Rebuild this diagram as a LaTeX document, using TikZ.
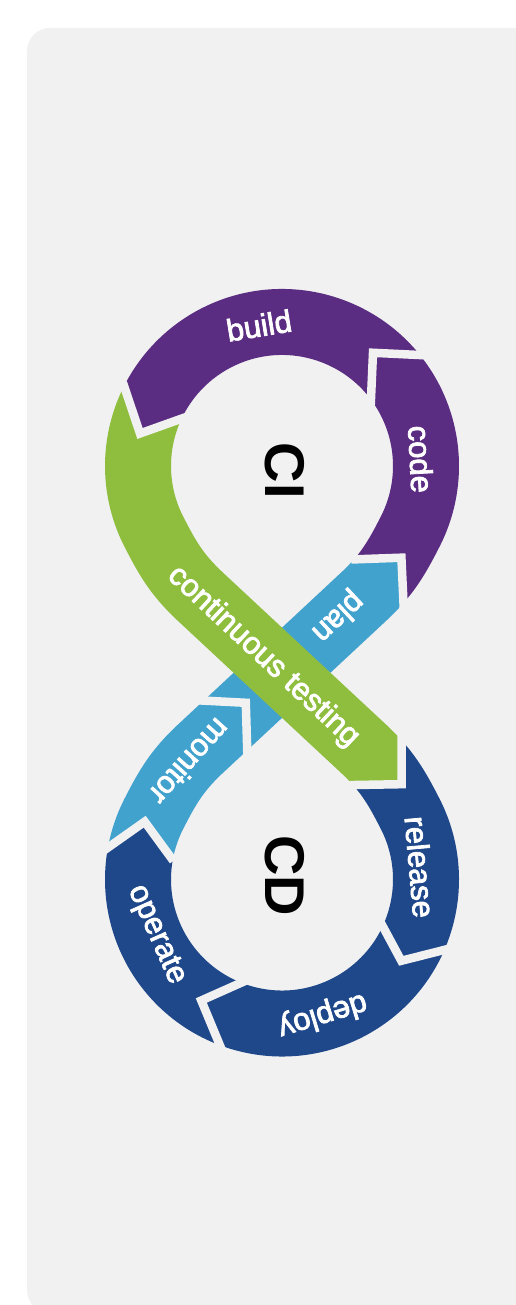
\documentclass[tikz,border=0pt]{standalone}
\usepackage{fontspec}
\setmainfont{Liberation Sans}
\newfontface\stagefont[FakeBold=2.5]{Liberation Sans}
\usetikzlibrary{calc}
\definecolor{panel}{HTML}{F1F1F1}
\definecolor{ciPurple}{HTML}{5B2D82}
\definecolor{ctGreen}{HTML}{8FBE3F}
\definecolor{opsSky}{HTML}{42A2CE}
\definecolor{cdNavy}{HTML}{1F488B}
\tikzset{
  band/.style={line width=66pt},
  seam/.style={draw=panel, line width=8.5pt, line join=miter, miter limit=10},
  stage/.style={text=white, font=\stagefont\fontsize{31}{31}\selectfont, inner sep=0pt},
  loopname/.style={text=black, font=\bfseries\fontsize{56}{56}\selectfont, inner sep=0pt, rotate=-90},
}
\begin{document}
\begin{tikzpicture}[x=1pt,y=1pt]
\useasboundingbox (0,0) rectangle (516,1305);
\fill[white] (0,0) rectangle (516,1305);
\begin{scope}
  \clip (0,0) rectangle (516,1305);
  \fill[panel, rounded corners=23pt] (27,-8) rectangle (560,1277);
\end{scope}

% loop centres, crossing point
\coordinate (C1) at (282,839);
\coordinate (C2) at (282,425.5);
\coordinate (M) at (282,632.25);
% where the straight strands blend into the loops
\coordinate (Lb) at (363.2,707.9);
\coordinate (Q) at (410.306,773.625);
\coordinate (Qp) at (153.694,773.625);
\coordinate (Lg) at (200.8,707.9);
\coordinate (Lg2) at (363.2,556.6);
\coordinate (Q2) at (410.306,490.875);
\coordinate (Q3) at (153.694,490.875);
\coordinate (Lb2) at (200.8,556.6);

% seams between stages: left end, tip, right end (seen in the direction of travel)
\coordinate (J1L) at (183.7,887.1); \coordinate (J1T) at (140,871.5);   \coordinate (J1R) at (124.7,917);
\coordinate (J2L) at (370.9,904.1); \coordinate (J2T) at (373,952.2);   \coordinate (J2R) at (418.9,950);
\coordinate (J3L) at (356.7,745.7); \coordinate (J3T) at (401.4,747.3); \coordinate (J3R) at (403.7,697.5);
\coordinate (J4L) at (401.5,568.3); \coordinate (J4T) at (401.5,520.8); \coordinate (J4R) at (355.3,520);
\coordinate (J5L) at (444,355);     \coordinate (J5T) at (401.3,344.2); \coordinate (J5R) at (382.2,379.7);
\coordinate (J6L) at (220.8,257.5); \coordinate (J6T) at (201.3,304.5); \coordinate (J6R) at (241.7,322.5);
\coordinate (J7L) at (105.3,455.5); \coordinate (J7T) at (144.7,483.3); \coordinate (J7R) at (170.3,448.3);
\coordinate (J8L) at (201.3,604.5); \coordinate (J8T) at (245.8,602.2); \coordinate (J8R) at (247.2,555.5);
\foreach \j in {1,...,8} {
  \coordinate (J\j LL) at ($(J\j T)!1.6!(J\j L)$);
  \coordinate (J\j RR) at ($(J\j T)!1.6!(J\j R)$);
}

% release
\begin{scope}
  \clip (J4LL) -- (J4T) -- (J4RR) -- (C2) -- (J5RR) -- (J5T) -- (J5LL)
        -- ($(C2)+(-15:300)$) -- ($(C2)+(40:300)$) -- cycle;
  \draw[band, cdNavy] (355.1,564.05) -- (Lg2) to[out=-43,in=117] (Q2)
        arc[start angle=27, end angle=-50, radius=144];
\end{scope}
% deploy
\begin{scope}
  \clip (J5LL) -- (J5T) -- (J5RR) -- (C2) -- (J6RR) -- (J6T) -- (J6LL)
        -- ($(C2)+(-115:300)$) -- ($(C2)+(-35:300)$) -- cycle;
  \draw[band, cdNavy] ($(C2)+(-15:144)$) arc[start angle=-15, end angle=-140, radius=144];
\end{scope}
% operate
\begin{scope}
  \clip (J6LL) -- (J6T) -- (J6RR) -- (C2) -- (J7RR) -- (J7T) -- (J7LL)
        -- ($(C2)+(180:300)$) -- ($(C2)+(210:300)$) -- ($(C2)+(240:300)$) -- cycle;
  \draw[band, cdNavy] ($(C2)+(-100:144)$) arc[start angle=-100, end angle=-215, radius=144];
\end{scope}
% monitor
\begin{scope}
  \clip (J7LL) -- (J7T) -- (J7RR) -- (C2) -- (J8RR) -- (J8T) -- (J8LL)
        -- (60,600) -- (20,450) -- cycle;
  \draw[band, opsSky] ($(C2)+(-175:144)$) arc[start angle=-175, end angle=-207, radius=144]
        to[out=63,in=223] (Lb2) -- (267.4,618.6);
\end{scope}
% plan
\begin{scope}
  \clip (J8LL) -- (J8T) -- (J8RR) -- (J3RR) -- (J3T) -- (J3LL) -- cycle;
  \draw[band, opsSky] (208.9,564.05) -- (Lb) to[out=43,in=243] (Q)
        arc[start angle=-27, end angle=-10, radius=144];
\end{scope}
% code
\begin{scope}
  \clip (J3LL) -- (J3T) -- (J3RR) -- ($(C1)+(-45:300)$) -- ($(C1)+(0:300)$)
        -- ($(C1)+(45:300)$) -- (J2RR) -- (J2T) -- (J2LL) -- (C1) -- cycle;
  \draw[band, ciPurple] (355.1,700.45) -- (Lb) to[out=43,in=243] (Q)
        arc[start angle=-27, end angle=65, radius=144];
\end{scope}
% build
\begin{scope}
  \clip (J2LL) -- (J2T) -- (J2RR) -- ($(C1)+(75:300)$) -- ($(C1)+(130:300)$)
        -- (J1RR) -- (J1T) -- (J1LL) -- (C1) -- cycle;
  \draw[band, ciPurple] ($(C1)+(25:144)$) arc[start angle=25, end angle=185, radius=144];
\end{scope}
% continuous testing, laid over the crossing
\begin{scope}
  \clip (J1LL) -- (J1T) -- (J1RR) -- (55,900) -- (55,700) -- (J4RR) -- (J4T) -- (J4LL)
        -- (C1) -- cycle;
  \draw[band, ctGreen] ($(C1)+(140:144)$) arc[start angle=140, end angle=207, radius=144]
        to[out=-63,in=137] (Lg) -- (Lg2) to[out=-43,in=117] (Q2)
        arc[start angle=27, end angle=10, radius=144];
\end{scope}

% chevron seams
\foreach \j in {1,...,8}
  \draw[seam] ($(J\j T)!1.12!(J\j L)$) -- (J\j T) -- ($(J\j T)!1.12!(J\j R)$);

% stage labels
\node[stage, rotate=9.3]  (lblBuild)   at (259,979.5)   {build};
\node[stage, rotate=-87]  (lblCode)    at (420.8,845.8) {code};
\node[stage, rotate=-43]  (lblTest)    at (263.3,648.3) {continuous testing};
\node[stage, rotate=-137] (lblPlan)    at (337.5,688.5) {plan};
\node[stage, rotate=-132] (lblMonitor) at (190,543)     {monitor};
\node[stage, rotate=-85]  (lblRelease) at (420,438)     {release};
\node[stage, rotate=-163] (lblDeploy)  at (322.5,290)   {deploy};
\node[stage, rotate=-66]  (lblOperate) at (156,370)     {operate};
\node[loopname] (lblCI) at (285,834.2) {CI};
\node[loopname] (lblCD) at (285,429.2) {CD};
\end{tikzpicture}
\end{document}
